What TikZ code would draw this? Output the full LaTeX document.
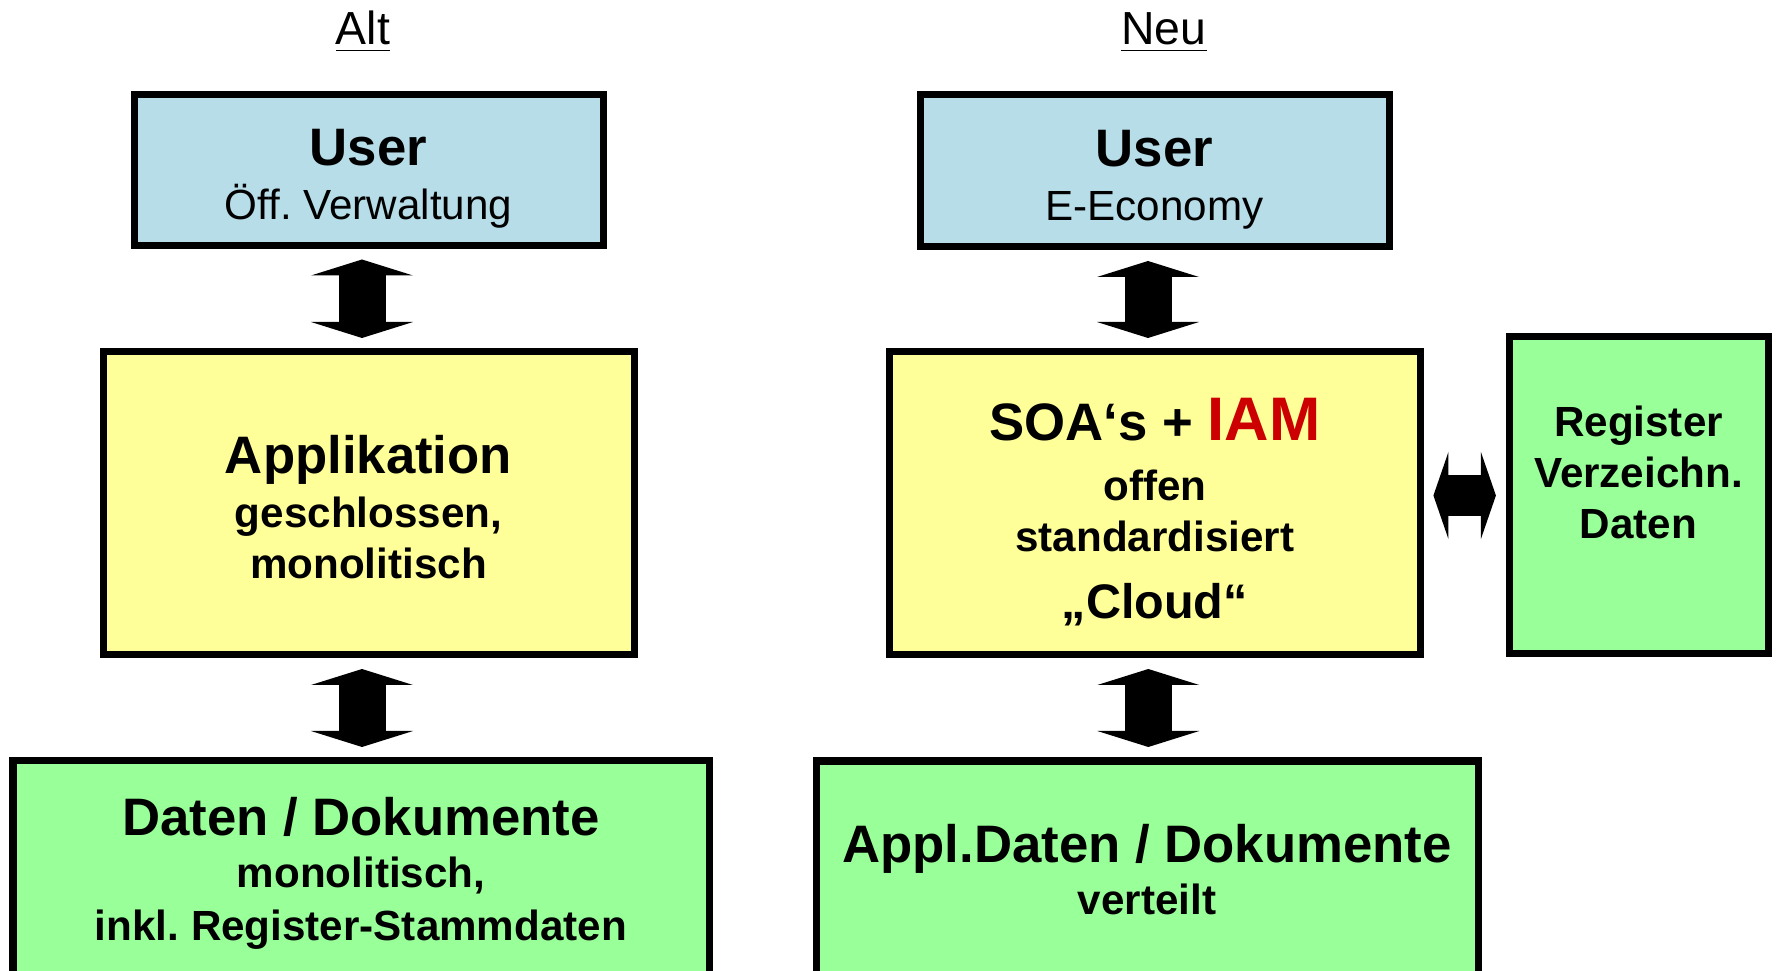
\documentclass[tikz,border=0pt]{standalone}
\usepackage{fontspec}
\setmainfont{Liberation Sans}
\usetikzlibrary{arrows.meta}
\frenchspacing
\definecolor{userblau}{HTML}{B7DDE8}
\definecolor{applgelb}{HTML}{FFFF99}
\definecolor{datengruen}{HTML}{99FF99}
\definecolor{iamrot}{HTML}{CC0000}
\tikzset{
  kasten/.style={draw=black,line width=0.07cm,align=center,inner sep=0pt,
    font=\bfseries\fontsize{12}{14.5}\selectfont},
  kopf/.style={font=\fontsize{13.2}{15}\selectfont,anchor=base},
  dickpfeil/.style={line width=0.47cm,
    {Triangle[width=1.02cm,length=0.16cm,line width=0pt]}-{Triangle[width=1.02cm,length=0.16cm,line width=0pt]},
    shorten <=0.105cm,shorten >=0.105cm},
  querpfeil/.style={line width=0.41cm,
    {Triangle[width=0.87cm,length=0.15cm,line width=0pt]}-{Triangle[width=0.87cm,length=0.15cm,line width=0pt]},
    shorten <=0.096cm,shorten >=0.096cm}
}
\newcommand{\gross}{\fontsize{15}{16}\selectfont}
\begin{document}
\begin{tikzpicture}
\useasboundingbox (0,0) rectangle (17.76,9.70);
\clip (0,0) rectangle (17.76,9.70);
%Ueberschriften
\node[kopf] (alt) at (3.63,9.25) {\underline{Alt}};
\node[kopf] (neu) at (11.64,9.25) {\underline{Neu}};
%Alt
\node[kasten,fill=userblau,minimum width=4.69cm,minimum height=1.51cm] (user1) at (3.685,8.00)
  {\rule{0pt}{15.3pt}{\gross User}\\[0.6pt]{\mdseries Öff. Verwaltung}};
\node[kasten,fill=applgelb,minimum width=5.31cm,minimum height=3.03cm] (appl1) at (3.685,4.665)
  {\rule{0pt}{12.9pt}{\gross Applikation}\\[0.7pt]geschlossen,\\monolitisch};
\node[kasten,fill=datengruen,minimum width=6.96cm,minimum height=2.24cm] (daten1) at (3.61,0.97)
  {{\gross Daten / Dokumente}\\[0.3pt]monolitisch,\\[0.6pt]inkl. Register-Stammdaten};
%Neu
\node[kasten,fill=userblau,minimum width=4.69cm,minimum height=1.52cm] (user2) at (11.545,7.99)
  {\rule{0pt}{15.3pt}{\gross User}\\[0.6pt]{\mdseries E-Economy}};
\node[kasten,fill=applgelb,minimum width=5.31cm,minimum height=3.03cm] (soa) at (11.548,4.665)
  {\rule{0pt}{17pt}{\gross SOA‘s + {\fontsize{17.5}{18}\selectfont\color{iamrot}IAM}}\\[2.7pt]offen\\standardisiert\\[4.5pt]{\fontsize{13.8}{15}\selectfont „Cloud“}};
\node[kasten,fill=datengruen,minimum width=2.59cm,minimum height=3.17cm] (reg) at (16.385,4.745)
  {Register\\Verzeichn.\\Daten\rule[-13.5pt]{0pt}{13.5pt}};
\node[kasten,fill=datengruen,minimum width=6.62cm,minimum height=2.18cm] (daten2) at (11.47,1.00)
  {{\gross Appl.Daten / Dokumente}\\[0.3pt]verteilt};
%Pfeile
\draw[dickpfeil] ([xshift=-0.065cm]user1.south) -- ([xshift=-0.065cm]user1.south |- appl1.north);
\draw[dickpfeil] ([xshift=-0.065cm]appl1.south) -- ([xshift=-0.065cm]appl1.south |- daten1.north);
\draw[dickpfeil] ([xshift=-0.065cm]user2.south) -- ([xshift=-0.065cm]user2.south |- soa.north);
\draw[dickpfeil] ([xshift=-0.065cm]soa.south) -- ([xshift=-0.065cm]soa.south |- daten2.north);
\draw[querpfeil] (soa.east |- reg.west) -- (reg.west);
\end{tikzpicture}
\end{document}
